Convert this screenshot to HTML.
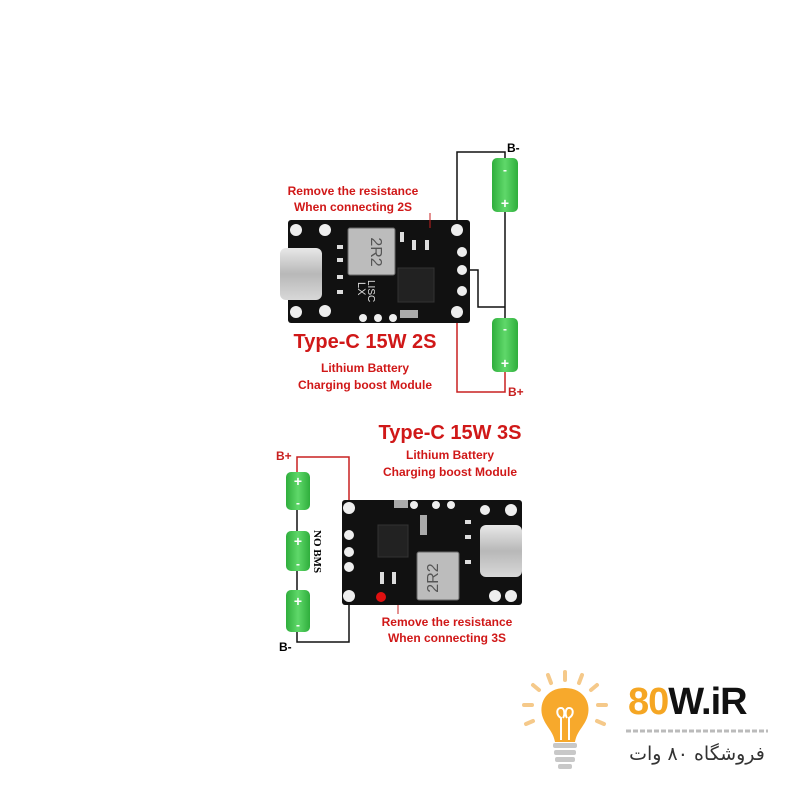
<!DOCTYPE html>
<html><head><meta charset="utf-8"><style>
html,body{margin:0;padding:0;background:#fff}
svg{display:block}
.r{fill:#d01818;font-family:"Liberation Sans",sans-serif;font-weight:bold}
</style></head><body>
<svg width="800" height="800" viewBox="0 0 800 800" xmlns="http://www.w3.org/2000/svg">
<defs>
<linearGradient id="g" x1="0" x2="1"><stop offset="0" stop-color="#2fae3c"/><stop offset=".5" stop-color="#5fd86a"/><stop offset="1" stop-color="#2fae3c"/></linearGradient>
<linearGradient id="s" x1="0" y1="0" x2="0" y2="1"><stop offset="0" stop-color="#e8e8e8"/><stop offset=".5" stop-color="#b8b8b8"/><stop offset="1" stop-color="#d8d8d8"/></linearGradient>
</defs>
<!-- TOP WIRES -->
<polyline points="457,230 457,152 505,152 505,160" fill="none" stroke="#111" stroke-width="1.5"/>
<line x1="505" y1="212" x2="505" y2="318" stroke="#111" stroke-width="1.5"/>
<polyline points="462,270 478,270 478,307 505,307" fill="none" stroke="#111" stroke-width="1.5"/>
<polyline points="457,312 457,392 505,392 505,372" fill="none" stroke="#c82020" stroke-width="1.5"/>
<!-- top board -->
<rect x="288" y="220" width="182" height="103" rx="3" fill="#111"/>
<rect x="280" y="248" width="42" height="52" rx="6" fill="url(#s)"/>
<rect x="348" y="228" width="47" height="47" rx="2" fill="#bcbcbc" stroke="#666"/>
<text x="371" y="252" font-family="Liberation Sans" font-size="16" fill="#555" text-anchor="middle" transform="rotate(90 371 252)">2R2</text>
<rect x="398" y="268" width="36" height="34" fill="#222" stroke="#333"/>
<g fill="#eee"><circle cx="296" cy="230" r="6"/><circle cx="296" cy="312" r="6"/><circle cx="325" cy="230" r="6"/><circle cx="325" cy="311" r="6"/>
<circle cx="457" cy="230" r="6"/><circle cx="462" cy="252" r="5"/><circle cx="462" cy="270" r="5"/><circle cx="462" cy="291" r="5"/><circle cx="457" cy="312" r="6"/>
<circle cx="363" cy="318" r="4"/><circle cx="378" cy="318" r="4"/><circle cx="393" cy="318" r="4"/></g>
<g fill="#ddd"><rect x="400" y="232" width="4" height="10"/><rect x="412" y="240" width="4" height="10"/><rect x="425" y="240" width="4" height="10"/><rect x="337" y="245" width="6" height="4"/><rect x="337" y="258" width="6" height="4"/><rect x="337" y="275" width="6" height="4"/><rect x="337" y="290" width="6" height="4"/><rect x="400" y="310" width="18" height="8" fill="#aaa"/></g>
<text x="358" y="282" font-family="Liberation Sans" font-size="11" fill="#ddd" transform="rotate(90 358 282)">LX</text>
<text x="368" y="280" font-family="Liberation Sans" font-size="10" fill="#ddd" transform="rotate(90 368 280)">LISC</text>
<!-- top batteries -->
<rect x="492" y="158" width="26" height="54" rx="5" fill="url(#g)"/>
<rect x="492" y="318" width="26" height="54" rx="5" fill="url(#g)"/>
<g fill="#fff" font-family="Liberation Sans" font-weight="bold" text-anchor="middle"><text x="505" y="174" font-size="12">-</text><text x="505" y="208" font-size="14">+</text><text x="505" y="333" font-size="12">-</text><text x="505" y="368" font-size="14">+</text></g>
<text x="507" y="152" font-family="Liberation Sans" font-weight="bold" font-size="12">B-</text>
<text x="508" y="396" font-family="Liberation Sans" font-weight="bold" font-size="12" fill="#c82020">B+</text>
<line x1="430" y1="213" x2="430" y2="228" stroke="#c82020"/>
<text class="r" x="353" y="195" font-size="12" text-anchor="middle">Remove the resistance</text>
<text class="r" x="353" y="211" font-size="12" text-anchor="middle">When connecting 2S</text>
<text class="r" x="365" y="348" font-size="20" text-anchor="middle">Type-C 15W 2S</text>
<text class="r" x="365" y="372" font-size="12" text-anchor="middle">Lithium Battery</text>
<text class="r" x="365" y="389" font-size="12" text-anchor="middle">Charging boost Module</text>

<!-- BOTTOM -->
<text class="r" x="450" y="439" font-size="20" text-anchor="middle">Type-C 15W 3S</text>
<text class="r" x="450" y="459" font-size="12" text-anchor="middle">Lithium Battery</text>
<text class="r" x="450" y="476" font-size="12" text-anchor="middle">Charging boost Module</text>
<polyline points="297,472 297,457 349,457 349,508" fill="none" stroke="#c82020" stroke-width="1.5"/>
<polyline points="297,632 297,642 349,642 349,596" fill="none" stroke="#111" stroke-width="1.5"/>
<line x1="297" y1="510" x2="297" y2="590" stroke="#111" stroke-width="1.5"/>
<rect x="342" y="500" width="180" height="105" rx="3" fill="#111"/>
<rect x="480" y="525" width="42" height="52" rx="6" fill="url(#s)"/>
<rect x="417" y="552" width="42" height="48" rx="2" fill="#bcbcbc" stroke="#666"/>
<text x="438" y="578" font-family="Liberation Sans" font-size="16" fill="#555" text-anchor="middle" transform="rotate(-90 438 578)">2R2</text>
<rect x="378" y="525" width="30" height="32" fill="#222" stroke="#333"/>
<g fill="#eee"><circle cx="349" cy="508" r="6"/><circle cx="349" cy="535" r="5"/><circle cx="349" cy="552" r="5"/><circle cx="349" cy="567" r="5"/><circle cx="349" cy="596" r="6"/>
<circle cx="485" cy="510" r="5"/><circle cx="511" cy="510" r="6"/><circle cx="495" cy="596" r="6"/><circle cx="511" cy="596" r="6"/>
<circle cx="414" cy="505" r="4"/><circle cx="436" cy="505" r="4"/><circle cx="451" cy="505" r="4"/></g>
<g fill="#ddd"><rect x="394" y="500" width="14" height="8" fill="#aaa"/><rect x="420" y="515" width="7" height="20" fill="#aaa"/><rect x="465" y="520" width="6" height="4"/><rect x="465" y="535" width="6" height="4"/><rect x="465" y="560" width="6" height="4"/><rect x="380" y="572" width="4" height="12"/><rect x="392" y="572" width="4" height="12"/></g>
<circle cx="381" cy="597" r="5" fill="#e01010"/>
<line x1="398" y1="605" x2="398" y2="614" stroke="#c82020"/>
<rect x="286" y="472" width="24" height="38" rx="5" fill="url(#g)"/>
<rect x="286" y="531" width="24" height="40" rx="5" fill="url(#g)"/>
<rect x="286" y="590" width="24" height="42" rx="5" fill="url(#g)"/>
<g fill="#fff" font-family="Liberation Sans" font-weight="bold" text-anchor="middle"><text x="298" y="486" font-size="14">+</text><text x="298" y="507" font-size="12">-</text><text x="298" y="546" font-size="14">+</text><text x="298" y="568" font-size="12">-</text><text x="298" y="606" font-size="14">+</text><text x="298" y="629" font-size="12">-</text></g>
<text x="314" y="530" font-family="Liberation Serif" font-weight="bold" font-size="11" transform="rotate(90 314 530)">NO BMS</text>
<text x="276" y="460" font-family="Liberation Sans" font-weight="bold" font-size="12" fill="#c82020">B+</text>
<text x="279" y="651" font-family="Liberation Sans" font-weight="bold" font-size="12">B-</text>
<text class="r" x="447" y="626" font-size="12" text-anchor="middle">Remove the resistance</text>
<text class="r" x="447" y="642" font-size="12" text-anchor="middle">When connecting 3S</text>

<!-- LOGO -->
<g stroke="#f5c98a" stroke-width="4" stroke-linecap="round">
<line x1="565" y1="672" x2="565" y2="680"/><line x1="548" y1="675" x2="551" y2="683"/><line x1="582" y1="675" x2="579" y2="683"/>
<line x1="533" y1="685" x2="539" y2="690"/><line x1="597" y1="685" x2="591" y2="690"/><line x1="524" y1="705" x2="532" y2="705"/><line x1="606" y1="705" x2="598" y2="705"/>
<line x1="526" y1="724" x2="533" y2="721"/><line x1="604" y1="724" x2="597" y2="721"/></g>
<path d="M565 688 C545 688 538 705 543 718 C547 728 553 731 555 742 L575 742 C577 731 583 728 587 718 C592 705 585 688 565 688Z" fill="#f7a92c"/>
<path d="M561 740 L561 718 C556 715 556 708 561 708 C565 708 565 715 563 718 M569 740 L569 718 C574 715 574 708 569 708 C565 708 565 715 567 718" fill="none" stroke="#fff" stroke-width="2"/>
<g fill="#c8c8c8"><rect x="553" y="743" width="24" height="5" rx="2"/><rect x="554" y="750" width="22" height="5" rx="2"/><rect x="555" y="757" width="20" height="5" rx="2"/><rect x="558" y="764" width="14" height="5" rx="2"/></g>
<text x="628" y="714" font-family="Liberation Sans" font-weight="bold" font-size="38" letter-spacing="-1"><tspan fill="#f5a623">80</tspan><tspan fill="#111">W.iR</tspan></text>
<line x1="626" y1="731" x2="768" y2="731" stroke="#bbb" stroke-width="3" stroke-dasharray="5,2"/>
<text x="697" y="760" font-family="'DejaVu Sans',sans-serif" font-size="19" fill="#333" text-anchor="middle" direction="rtl">فروشگاه ۸۰ وات</text>
</svg>
</body></html>
